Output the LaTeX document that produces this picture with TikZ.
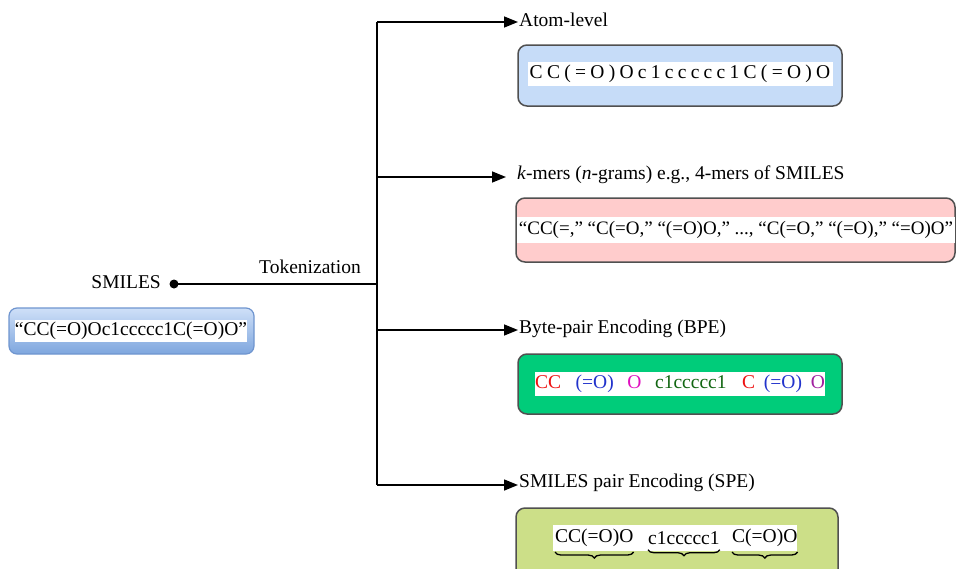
\documentclass[tikz,border=0pt]{standalone}
\usepackage{fontspec}
\setmainfont{Liberation Serif}
\usetikzlibrary{arrows.meta,decorations.pathreplacing,calc}
\definecolor{inTop}{HTML}{CFE0F8}
\definecolor{inBot}{HTML}{7EA6DE}
\definecolor{inBorder}{HTML}{6F95CF}
\definecolor{atomFill}{HTML}{C6DCF8}
\definecolor{kmerFill}{HTML}{FFCCCC}
\definecolor{bpeFill}{HTML}{00CC7A}
\definecolor{speFill}{HTML}{CCDF88}
\definecolor{boxBorder}{HTML}{505050}
\definecolor{tkRed}{HTML}{EE1111}
\definecolor{tkBlue}{HTML}{2233CC}
\definecolor{tkMag}{HTML}{E010C0}
\definecolor{tkGreen}{HTML}{116611}
\definecolor{tkPurple}{HTML}{A0209F}
\newcommand{\ls}{\hspace{0.22em}}
\begin{document}
\begin{tikzpicture}[x=1pt,y=-1pt,
  font=\fontsize{19.5}{22}\selectfont,
  conn/.style={line width=1.5pt,black},
  arr/.style={conn,-{Triangle[length=14pt,width=11pt]}},
  lbl/.style={anchor=west,inner sep=1pt},
  tokbox/.style={draw=boxBorder,line width=1.5pt,rounded corners=9pt},
  band/.style={fill=white,inner sep=0pt,minimum height=24pt}]
\useasboundingbox (0,0) rectangle (956,568);

% input box
\draw[rounded corners=8pt,draw=inBorder,line width=1.2pt,top color=inTop,bottom color=inBot] (9,308) rectangle (254,354);
\node[band,minimum height=22pt,minimum width=229pt] (input) at (131,331) {“CC(=O)Oc1ccccc1C(=O)O”};

% SMILES dot and trunk
\fill (174,284) circle (4.5pt);
\coordinate (dot) at (174,284);
\node[anchor=east,inner sep=0pt] (smiles) at (161,282) {SMILES};
\coordinate (jn) at (377,284);
\coordinate (t1) at (377,22);
\coordinate (t2) at (377,177);
\coordinate (t3) at (377,330);
\coordinate (t4) at (377,485);
\node[inner sep=0pt] (tok) at (310,267) {Tokenization};
\draw[conn] (dot) -- (jn);
\draw[conn] (t1) -- (t4);

% labels
\node[lbl] (l1) at (518,20) {Atom-level};
\node[lbl,xshift=11pt] (l2) at (505,175) {\textit{k}-mers (\textit{n}-grams) e.g., 4-mers of SMILES};
\node[lbl] (l3) at (518,329) {Byte-pair Encoding (BPE)};
\node[lbl] (l4) at (518,483) {SMILES pair Encoding (SPE)};
\draw[arr] (t1) -- (t1 -| l1.west);
\draw[arr] (t2) -- (506,177);
\draw[arr] (t3) -- (t3 -| l3.west);
\draw[arr] (t4) -- (t4 -| l4.west);

% atom-level box
\draw[tokbox,fill=atomFill] (518,45) rectangle (842,106);
\node[band,minimum width=305pt] (atomtxt) at (680,74) {C\ls C\ls (\ls =\ls O\ls )\ls O\ls c\ls 1\ls c\ls c\ls c\ls c\ls c\ls 1\ls C\ls (\ls =\ls O\ls )\ls O};

% k-mers box
\draw[tokbox,fill=kmerFill] (516,198) rectangle (955,262);
\node[band,minimum height=26pt,minimum width=438pt] (kmertxt) at (736,230) {\fontsize{19}{22}\selectfont “CC(=,” “C(=O,” “(=O)O,” ..., “C(=O,” “(=O),” “=O)O”};

% BPE box
\draw[tokbox,fill=bpeFill] (518,354) rectangle (842,414);
\node[band,minimum width=285pt] (bpetxt) at (680,384) {\textcolor{tkRed}{CC}\hspace{0.75em}\textcolor{tkBlue}{(=O)}\hspace{0.7em}\textcolor{tkMag}{O}\hspace{0.7em}\textcolor{tkGreen}{c1ccccc1}\hspace{0.8em}\textcolor{tkRed}{C}\hspace{0.45em}\textcolor{tkBlue}{(=O)}\hspace{0.45em}\textcolor{tkPurple}{O}};

% SPE box
\draw[tokbox,fill=speFill] (516,508) rectangle (838,590);
\fill[white] (553,525) rectangle (797,551);
\node[inner sep=0pt,anchor=west] (s1) at (555,538) {CC(=O)O};
\node[inner sep=0pt,anchor=west] (s2) at (648,538) {c1ccccc1};
\node[inner sep=0pt,anchor=west] (s3) at (732,538) {C(=O)O};
\foreach \s in {s1,s2,s3}{
  \draw[line width=1.3pt,decorate,decoration={brace,mirror,amplitude=6pt}] ($(\s.south west)+(0,5)$) -- ($(\s.south east)+(0,5)$);
}
\end{tikzpicture}
\end{document}
